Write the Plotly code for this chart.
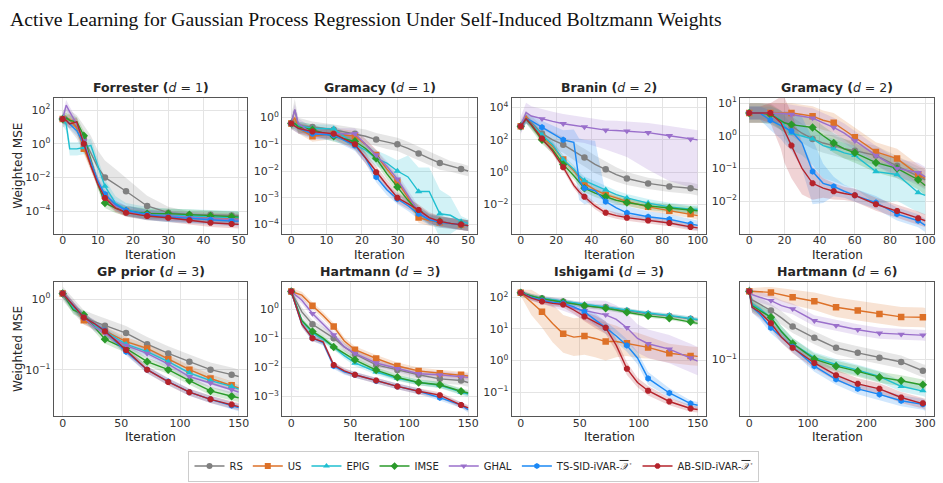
import plotly.graph_objects as go

W, H = 943, 483

# ---------------- methods ----------------
XBAR = '<span style="text-decoration:overline"><i>𝒳</i></span>'
methods = ["RS", "US", "EPIG", "IMSE", "GHAL", "TS-SID-iVAR-" + XBAR, "AB-SID-iVAR-" + XBAR]
colors = ["#808080", "#dd7128", "#1fbfd0", "#2a9a2a", "#9a6fcb", "#1a88f5", "#b5232b"]
symbols = ["circle", "square", "triangle-up", "diamond", "triangle-down", "hexagon", "octagon"]

titles = [
    ("Forrester", 1), ("Gramacy", 1), ("Branin", 2), ("Gramacy", 2),
    ("GP prior", 3), ("Hartmann", 3), ("Ishigami", 3), ("Hartmann", 6),
]

# ---------------- Forrester (d=1) ----------------
forrester_x = [0, 1, 2, 4, 6, 8, 10, 12, 15, 18, 24, 30, 36, 42, 48, 50]
forrester_marks = [0, 6, 12, 18, 24, 30, 36, 42, 48]
forrester_mean = [
    [30, 40, 25, 10, 2, 0.3, 0.04, 0.01, 0.004, 0.0015, 2e-4, 8e-5, 6e-5, 6e-5, 5.5e-5, 5.5e-5],
    [30, 25, 30, 8, 0.5, 0.05, 5e-3, 8e-4, 2e-4, 1e-4, 6e-5, 5e-5, 4.5e-5, 4e-5, 3.5e-5, 3.5e-5],
    [30, 15, 0.5, 0.5, 0.6, 0.8, 0.05, 3e-3, 3e-4, 1.2e-4, 7e-5, 5.5e-5, 5e-5, 4.5e-5, 4e-5, 4e-5],
    [30, 35, 25, 20, 3, 0.1, 4e-3, 3e-4, 1.5e-4, 1e-4, 7e-5, 7e-5, 6e-5, 5e-5, 4.5e-5, 4.5e-5],
    [30, 200, 80, 15, 1.5, 0.1, 5e-3, 6e-4, 2e-4, 1e-4, 6e-5, 5e-5, 4e-5, 3.5e-5, 3e-5, 3e-5],
    [30, 25, 15, 6, 1, 0.07, 6e-3, 1e-3, 2.5e-4, 1.1e-4, 6e-5, 4.5e-5, 3.5e-5, 3e-5, 2.5e-5, 2.5e-5],
    [30, 25, 15, 20, 1, 0.05, 4e-3, 6e-4, 1.5e-4, 8e-5, 5e-5, 4e-5, 2.8e-5, 2e-5, 1.7e-5, 1.6e-5],
]
forrester_band = [
    [0.5, 0.5, 0.6, 0.7, 0.8, 1.0, 1.0, 1.0, 0.9, 0.8, 0.6, 0.35, 0.2, 0.2, 0.2, 0.2],
    0.3, 0.4, 0.3, 0.3, 0.3, 0.25,
]

# ---------------- Gramacy (d=1) ----------------
gramacy1_x = [0, 1, 2, 6, 12, 18, 21, 24, 27, 30, 33, 36, 39, 42, 45, 48, 50]
gramacy1_marks = [0, 6, 12, 18, 24, 30, 36, 42, 48]
gramacy1_mean = [
    [0.6, 2, 0.5, 0.45, 0.35, 0.25, 0.2, 0.15, 0.12, 0.1, 0.07, 0.045, 0.03, 0.02, 0.015, 0.012, 0.01],
    [0.6, 1, 0.4, 0.2, 0.25, 0.2, 0.1, 0.04, 0.012, 0.004, 1e-3, 1.8e-4, 1.4e-4, 1.2e-4, 1.1e-4, 1e-4, 9e-5],
    [0.6, 0.6, 0.5, 0.4, 0.38, 0.1, 0.06, 0.03, 0.02, 0.01, 0.006, 1.7e-3, 1.7e-3, 2.5e-4, 2.2e-4, 1.3e-4, 1.1e-4],
    [0.6, 0.6, 0.45, 0.35, 0.2, 0.13, 0.07, 0.03, 0.008, 0.0025, 8e-4, 3e-4, 1.6e-4, 1.3e-4, 1.1e-4, 1e-4, 9e-5],
    [0.6, 2, 0.6, 0.25, 0.25, 0.25, 0.1, 0.04, 0.015, 0.005, 1.2e-3, 3e-4, 1.6e-4, 1.3e-4, 1.1e-4, 1e-4, 9e-5],
    [0.6, 0.5, 0.4, 0.25, 0.22, 0.09, 0.03, 0.006, 0.002, 9e-4, 5e-4, 2.5e-4, 1.5e-4, 1.2e-4, 1.1e-4, 1e-4, 9e-5],
    [0.6, 0.5, 0.4, 0.3, 0.25, 0.1, 0.03, 0.009, 0.003, 0.001, 6e-4, 3.5e-4, 1.8e-4, 1.3e-4, 1.1e-4, 1e-4, 9e-5],
]
gramacy1_band = [
    [0.3, 0.4, 0.3, 0.2, 0.2, 0.2, 0.25, 0.25, 0.25, 0.25, 0.25, 0.25, 0.25, 0.25, 0.2, 0.2, 0.2],
    0.2,
    [0.15, 0.15, 0.15, 0.15, 0.15, 0.2, 0.25, 0.3, 0.3, 0.4, 0.8, 0.9, 0.9, 0.9, 0.7, 0.2, 0.15],
    0.2, 0.2, 0.2, 0.2,
]

# ---------------- Branin (d=2) ----------------
branin_x = [0, 3, 6, 12, 18, 24, 30, 33, 36, 42, 48, 54, 60, 72, 84, 96, 100]
branin_marks = [0, 12, 24, 36, 48, 60, 72, 84, 96]
branin_mean = [
    [700, 2500, 1200, 250, 100, 50, 20, 12, 8, 3, 1.5, 0.7, 0.4, 0.2, 0.13, 0.1, 0.08],
    [700, 3000, 1000, 150, 40, 6, 1.2, 0.5, 0.2, 0.08, 0.04, 0.025, 0.015, 0.007, 0.004, 0.0025, 0.002],
    [700, 2000, 1000, 200, 50, 6, 1.5, 0.6, 0.3, 0.15, 0.08, 0.04, 0.025, 0.012, 0.007, 0.005, 0.005],
    [700, 2000, 800, 100, 25, 3, 0.6, 0.25, 0.1, 0.05, 0.03, 0.018, 0.013, 0.008, 0.006, 0.0045, 0.004],
    [700, 5000, 3000, 2000, 1400, 1000, 800, 700, 630, 500, 400, 380, 350, 280, 180, 110, 100],
    [700, 2000, 1500, 600, 250, 100, 70, 0.3, 0.1, 0.07, 0.015, 0.006, 0.003, 0.0017, 0.0012, 6e-4, 5e-4],
    [700, 2000, 900, 120, 20, 2, 0.15, 0.06, 0.03, 0.008, 0.003, 0.002, 0.0015, 0.001, 7e-4, 4e-4, 3.5e-4],
]
branin_band = [
    [0.4, 0.4, 0.4, 0.45, 0.5, 0.5, 0.55, 0.55, 0.55, 0.55, 0.5, 0.45, 0.4, 0.35, 0.35, 0.35, 0.35],
    0.25, 0.25, 0.25,
    ([0.5, 0.5, 0.6, 0.7, 0.8, 0.9, 1.0, 1.0, 1.0, 1.1, 1.2, 1.4, 1.6, 2.3, 2.8, 3.0, 3.0],
     [0.6, 0.6, 0.6, 0.6, 0.6, 0.6, 0.6, 0.6, 0.6, 0.6, 0.6, 0.6, 0.6, 0.6, 0.6, 0.6, 0.6]),
    ([0.3, 0.3, 0.3, 0.5, 0.7, 1.0, 1.5, 1.2, 1.0, 0.7, 0.5, 0.4, 0.35, 0.3, 0.3, 0.3, 0.3],
     [0.3, 0.3, 0.3, 0.4, 0.5, 0.6, 0.8, 2.6, 3.0, 3.1, 0.5, 0.4, 0.4, 0.35, 0.3, 0.3, 0.3]),
    0.2,
]

# ---------------- Gramacy (d=2) ----------------
gramacy2_x = [0, 6, 12, 18, 20, 24, 30, 36, 42, 48, 54, 60, 72, 84, 96, 100]
gramacy2_marks = [0, 12, 24, 36, 48, 60, 72, 84, 96]
gramacy2_mean = [
    [5, 5, 5, 3, 2.5, 2, 1.2, 0.8, 0.6, 0.5, 0.4, 0.35, 0.25, 0.12, 0.06, 0.045],
    [5, 5, 5, 5, 5, 5, 4.5, 4, 3, 2.5, 1.5, 0.9, 0.32, 0.2, 0.065, 0.05],
    [5, 5, 5, 3, 2, 1.2, 1, 0.8, 0.5, 0.4, 0.3, 0.25, 0.08, 0.065, 0.018, 0.015],
    [5, 5, 4.5, 3, 2.5, 2.2, 2, 1.8, 1, 0.6, 0.4, 0.3, 0.15, 0.1, 0.045, 0.03],
    [5, 5, 5, 5, 4.8, 4.5, 4, 3.5, 2.5, 1.8, 1.2, 0.7, 0.25, 0.1, 0.075, 0.055],
    [5, 5, 3, 2, 1.8, 1.4, 0.6, 0.08, 0.035, 0.028, 0.02, 0.015, 0.009, 0.004, 0.0025, 0.0018],
    [5, 5, 5, 2.5, 1.5, 0.5, 0.1, 0.035, 0.025, 0.02, 0.017, 0.015, 0.008, 0.005, 0.003, 0.0025],
]
gramacy2_band = [
    0.3, 0.3,
    ([0.2, 0.2, 0.2, 0.3, 0.4, 0.5, 0.6, 0.8, 1.0, 1.0, 1.0, 1.0, 1.0, 0.8, 0.6, 0.6],
     [0.2, 0.2, 0.2, 0.3, 0.3, 0.3, 0.3, 0.3, 0.3, 0.3, 0.3, 0.3, 0.3, 0.3, 0.3, 0.3]),
    0.3, 0.3,
    [0.2, 0.2, 0.3, 0.4, 0.5, 0.6, 0.8, 1.0, 0.6, 0.3, 0.2, 0.2, 0.2, 0.2, 0.2, 0.2],
    [0.2, 0.2, 0.3, 0.8, 1.0, 1.0, 0.8, 0.5, 0.3, 0.25, 0.2, 0.2, 0.2, 0.2, 0.2, 0.2],
]

# ---------------- GP prior (d=3) ----------------
gpprior_x = [0, 9, 18, 27, 36, 45, 54, 72, 90, 108, 126, 144, 150]
gpprior_marks = [0, 18, 36, 54, 72, 90, 108, 126, 144]
gpprior_mean = [
    [1.2, 0.8, 0.55, 0.48, 0.42, 0.37, 0.33, 0.23, 0.17, 0.13, 0.1, 0.085, 0.08],
    [1.2, 0.8, 0.5, 0.42, 0.35, 0.3, 0.25, 0.2, 0.14, 0.1, 0.075, 0.06, 0.055],
    [1.2, 0.75, 0.55, 0.42, 0.35, 0.28, 0.23, 0.18, 0.13, 0.09, 0.07, 0.058, 0.053],
    [1.2, 0.7, 0.6, 0.4, 0.27, 0.23, 0.2, 0.13, 0.1, 0.07, 0.05, 0.042, 0.04],
    [1.2, 0.8, 0.55, 0.4, 0.33, 0.27, 0.22, 0.17, 0.12, 0.08, 0.065, 0.052, 0.048],
    [1.2, 0.8, 0.55, 0.45, 0.36, 0.25, 0.18, 0.1, 0.068, 0.048, 0.038, 0.031, 0.029],
    [1.2, 0.8, 0.55, 0.45, 0.35, 0.26, 0.19, 0.1, 0.067, 0.048, 0.038, 0.032, 0.03],
]
gpprior_band = [0.1, 0.06, 0.06, 0.06, 0.06, 0.05, 0.05]

# ---------------- Hartmann (d=3) ----------------
hart3_x = [0, 9, 18, 27, 36, 45, 54, 72, 90, 108, 126, 144, 150]
hart3_marks = [0, 18, 36, 54, 72, 90, 108, 126, 144]
hart3_mean = [
    [4, 0.8, 0.3, 0.17, 0.1, 0.05, 0.028, 0.012, 0.008, 0.0055, 0.004, 0.0035, 0.003],
    [4, 3, 1.3, 0.6, 0.25, 0.08, 0.04, 0.02, 0.011, 0.0075, 0.0062, 0.0055, 0.005],
    [4, 0.4, 0.15, 0.09, 0.05, 0.025, 0.014, 0.007, 0.0042, 0.003, 0.0024, 0.0014, 0.0012],
    [4, 0.4, 0.17, 0.1, 0.05, 0.03, 0.018, 0.008, 0.0045, 0.003, 0.0025, 0.0015, 0.0013],
    [4, 2, 0.7, 0.3, 0.13, 0.05, 0.03, 0.014, 0.009, 0.006, 0.0055, 0.0047, 0.0045],
    [4, 0.3, 0.1, 0.07, 0.011, 0.007, 0.0055, 0.0034, 0.0022, 0.0015, 0.0009, 0.0005, 0.00035],
    [4, 0.3, 0.1, 0.075, 0.012, 0.0075, 0.0055, 0.0035, 0.0022, 0.0015, 0.0011, 0.0005, 0.0004],
]
hart3_band = [0.15, 0.12, 0.1, 0.1, 0.12, 0.1, 0.1]

# ---------------- Ishigami (d=3) ----------------
ishigami_x = [0, 9, 18, 27, 36, 45, 54, 63, 72, 81, 90, 99, 108, 126, 144, 150]
ishigami_marks = [0, 18, 36, 54, 72, 90, 108, 126, 144]
ishigami_mean = [
    [140, 110, 95, 85, 75, 65, 55, 50, 50, 42, 38, 33, 30, 26, 21, 19],
    [140, 70, 35, 15, 7, 5.5, 6, 5, 4, 4, 3.5, 3, 2.6, 1.7, 1.4, 1.35],
    [140, 110, 95, 85, 75, 65, 60, 55, 50, 45, 40, 35, 32, 27, 22, 20],
    [140, 110, 90, 80, 70, 62, 55, 50, 45, 40, 34, 30, 26, 22, 17, 15],
    [140, 100, 80, 70, 60, 45, 38, 32, 28, 20, 11, 5, 3.4, 2.3, 1.2, 0.95],
    [140, 100, 80, 70, 65, 50, 35, 20, 11, 6, 3, 1.2, 0.27, 0.093, 0.043, 0.038],
    [140, 95, 75, 65, 60, 40, 25, 17, 11, 3, 0.55, 0.2, 0.11, 0.05, 0.03, 0.028],
]
ishigami_band = [
    0.08,
    [0.1, 0.4, 0.5, 0.6, 0.6, 0.6, 0.6, 0.6, 0.6, 0.5, 0.4, 0.4, 0.35, 0.3, 0.3, 0.3],
    0.06, 0.06,
    [0.1, 0.1, 0.1, 0.15, 0.2, 0.2, 0.3, 0.4, 0.45, 0.45, 0.45, 0.45, 0.45, 0.45, 0.45, 0.45],
    [0.08, 0.08, 0.08, 0.1, 0.1, 0.12, 0.15, 0.2, 0.2, 0.2, 0.2, 0.2, 0.2, 0.15, 0.1, 0.1],
    [0.08, 0.08, 0.08, 0.1, 0.1, 0.12, 0.15, 0.2, 0.2, 0.2, 0.2, 0.15, 0.15, 0.12, 0.1, 0.1],
]

# ---------------- Hartmann (d=6) ----------------
hart6_x = [0, 5, 18, 37, 55, 74, 111, 148, 185, 222, 259, 296, 300]
hart6_marks = [0, 37, 74, 111, 148, 185, 222, 259, 296]
hart6_mean = [
    [0.42, 0.35, 0.32, 0.28, 0.24, 0.2, 0.158, 0.128, 0.115, 0.104, 0.095, 0.079, 0.078],
    [0.42, 0.42, 0.415, 0.41, 0.39, 0.37, 0.34, 0.30, 0.28, 0.26, 0.245, 0.243, 0.24],
    [0.42, 0.32, 0.29, 0.24, 0.18, 0.14, 0.104, 0.09, 0.08, 0.07, 0.057, 0.052, 0.051],
    [0.42, 0.31, 0.28, 0.243, 0.18, 0.14, 0.101, 0.087, 0.078, 0.069, 0.064, 0.059, 0.058],
    [0.42, 0.39, 0.37, 0.345, 0.31, 0.29, 0.226, 0.204, 0.187, 0.174, 0.17, 0.167, 0.166],
    [0.42, 0.3, 0.26, 0.195, 0.16, 0.131, 0.087, 0.066, 0.054, 0.048, 0.042, 0.039, 0.038],
    [0.42, 0.3, 0.27, 0.214, 0.16, 0.128, 0.093, 0.072, 0.06, 0.054, 0.045, 0.04, 0.039],
]
hart6_band = [0.06, [0.02, 0.03, 0.04, 0.05, 0.06, 0.07, 0.08, 0.09, 0.09, 0.09, 0.09, 0.09, 0.09],
              0.05, 0.05, 0.05, 0.05, 0.05]

panels = [
    (forrester_x, forrester_marks, forrester_mean, forrester_band),
    (gramacy1_x, gramacy1_marks, gramacy1_mean, gramacy1_band),
    (branin_x, branin_marks, branin_mean, branin_band),
    (gramacy2_x, gramacy2_marks, gramacy2_mean, gramacy2_band),
    (gpprior_x, gpprior_marks, gpprior_mean, gpprior_band),
    (hart3_x, hart3_marks, hart3_mean, hart3_band),
    (ishigami_x, ishigami_marks, ishigami_mean, ishigami_band),
    (hart6_x, hart6_marks, hart6_mean, hart6_band),
]

# axis settings
y_ranges = [(-5.37, 2.75), (-4.36, 0.75), (-3.84, 4.62), (-3.01, 1.17),
            (-1.66, 0.244), (-3.685, 0.935), (-1.77, 2.495), (-1.518, -0.291)]
y_tick_exp = [[2, 0, -2, -4], [0, -1, -2, -3, -4], [4, 2, 0, -2], [1, 0, -1, -2],
              [0, -1], [0, -1, -2, -3], [2, 1, 0, -1], [-1]]
x_max = [50, 50, 100, 100, 150, 150, 150, 300]
x_ticks = [[0, 10, 20, 30, 40, 50], [0, 10, 20, 30, 40, 50],
           [0, 20, 40, 60, 80, 100], [0, 20, 40, 60, 80, 100],
           [0, 50, 100, 150], [0, 50, 100, 150], [0, 50, 100, 150], [0, 100, 200, 300]]

# layout geometry in pixels
col_px = [(54, 248), (283, 478), (513, 708), (742, 936)]
row_px = [(96, 233), (281, 416)]

FONT = "DejaVu Sans"
TICK_COLOR = "#333333"


def rgba(hexc, a):
    h = hexc.lstrip("#")
    return f"rgba({int(h[0:2],16)},{int(h[2:4],16)},{int(h[4:6],16)},{a})"


def as_list(v, n):
    return list(v) if isinstance(v, (list, tuple)) else [v] * n


def band_bounds(y, b):
    n = len(y)
    if isinstance(b, tuple):
        dn, up = as_list(b[0], n), as_list(b[1], n)
    else:
        dn = up = as_list(b, n)
    lo = [v / 10 ** d for v, d in zip(y, dn)]
    hi = [v * 10 ** u for v, u in zip(y, up)]
    return lo, hi


def sup(e):
    return "10<sup>" + str(e).replace("-", "−") + "</sup>"


fig = go.Figure()
layout = dict(
    width=W, height=H,
    margin=dict(l=0, r=0, t=0, b=0),
    paper_bgcolor="white", plot_bgcolor="white",
    font=dict(family=FONT, color=TICK_COLOR, size=11),
    showlegend=True,
)
annotations = []

for i, (xs, marks, means, bands) in enumerate(panels):
    r, c = divmod(i, 4)
    k = "" if i == 0 else str(i + 1)
    xref, yref = "x" + k, "y" + k
    x0, x1 = col_px[c]
    y0, y1 = row_px[r]
    pad = x_max[i] * 0.05
    layout["xaxis" + k] = dict(
        domain=[x0 / W, x1 / W], anchor=yref, range=[-pad, x_max[i] + pad],
        tickvals=x_ticks[i], showgrid=True, gridcolor="#e4e4e4", gridwidth=1,
        showline=True, mirror=True, linecolor="#555555", linewidth=1.4,
        ticks="", zeroline=False, tickfont=dict(size=11, color=TICK_COLOR),
        ticklabelstandoff=-4,
    )
    layout["yaxis" + k] = dict(
        domain=[1 - y1 / H, 1 - y0 / H], anchor=xref, type="log",
        range=list(y_ranges[i]),
        tickvals=[10 ** e for e in y_tick_exp[i]], ticktext=[sup(e) for e in y_tick_exp[i]],
        showgrid=True, gridcolor="#e4e4e4", gridwidth=1,
        showline=True, mirror=True, linecolor="#555555", linewidth=1.4,
        ticks="", zeroline=False, tickfont=dict(size=11, color=TICK_COLOR),
    )
    # bands
    for m in range(7):
        lo, hi = band_bounds(means[m], bands[m])
        fig.add_trace(go.Scatter(
            x=xs + xs[::-1], y=hi + lo[::-1], fill="toself",
            fillcolor=rgba(colors[m], 0.2), line=dict(width=0),
            mode="lines", hoverinfo="skip", showlegend=False, xaxis=xref, yaxis=yref,
        ))
    # lines and markers
    for m in range(7):
        fig.add_trace(go.Scatter(
            x=xs, y=means[m], mode="lines", line=dict(color=colors[m], width=1.4),
            showlegend=False, xaxis=xref, yaxis=yref,
        ))
        mx = [x for x in xs if x in marks]
        my = [v for x, v in zip(xs, means[m]) if x in marks]
        fig.add_trace(go.Scatter(
            x=mx, y=my, mode="markers",
            marker=dict(color=colors[m], symbol=symbols[m], size=6.5, line=dict(width=0)),
            showlegend=False, xaxis=xref, yaxis=yref,
        ))
    # subplot title
    name, d = titles[i]
    annotations.append(dict(
        text=f"<b>{name} (</b><i>d</i> = {d}<b>)</b>",
        x=(x0 + x1) / 2 / W, y=1 - (y0 - 10) / H, xref="paper", yref="paper",
        xanchor="center", yanchor="middle", showarrow=False,
        font=dict(family=FONT, size=12.5, color="#262626"),
    ))
    # x axis title
    annotations.append(dict(
        text="Iteration", x=(x0 + x1) / 2 / W, y=1 - (y1 + 21) / H,
        xref="paper", yref="paper", xanchor="center", yanchor="middle", showarrow=False,
        font=dict(family=FONT, size=12, color="#262626"),
    ))
    if c == 0:
        annotations.append(dict(
            text="Weighted MSE", x=18 / W, y=1 - (y0 + y1) / 2 / H,
            xref="paper", yref="paper", xanchor="center", yanchor="middle", showarrow=False,
            textangle=-90, font=dict(family=FONT, size=12, color="#262626"),
        ))

# legend entries
for m in range(7):
    fig.add_trace(go.Scatter(
        x=[None], y=[None], mode="lines+markers", name=methods[m],
        line=dict(color=colors[m], width=1.4),
        marker=dict(color=colors[m], symbol=symbols[m], size=6),
        xaxis="x", yaxis="y",
    ))

# figure title
annotations.append(dict(
    text="Active Learning for Gaussian Process Regression Under Self-Induced Boltzmann Weights",
    x=8 / W, y=1 - 17 / H, xref="paper", yref="paper", xanchor="left", yanchor="middle",
    showarrow=False, font=dict(family="Liberation Serif", size=19.7, color="#111111"),
))

layout["annotations"] = annotations
layout["legend"] = dict(
    orientation="h", x=475 / W, y=1 - 466 / H, xanchor="center", yanchor="middle",
    bordercolor="#cccccc", borderwidth=1, bgcolor="white",
    font=dict(family=FONT, size=10, color="#262626"), itemwidth=30,
)
fig.update_layout(**layout)
fig.write_html("out.html")
